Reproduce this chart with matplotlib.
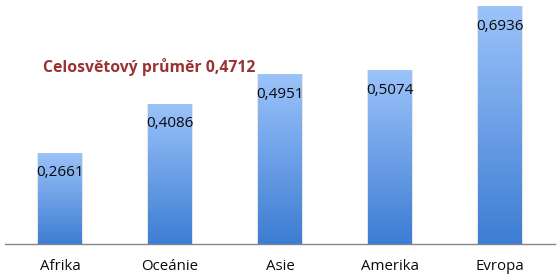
import numpy as np
import matplotlib
matplotlib.use("Agg")
import matplotlib.pyplot as plt
from matplotlib.colors import LinearSegmentedColormap

categories = ["Afrika", "Oceánie", "Asie", "Amerika", "Evropa"]
values = [0.2661, 0.4086, 0.4951, 0.5074, 0.6936]
value_labels = ["0,2661", "0,4086", "0,4951", "0,5074", "0,6936"]
title_text = "Celosvětový průměr 0,4712"

plt.rcParams['font.family'] = ['Open Sans', 'DejaVu Sans']

fig = plt.figure(figsize=(5.6, 2.8), dpi=100)
ax = fig.add_axes([5/560, 36/280, 550/560, 240/280])
ax.set_xlim(-0.5, 4.5)
ax.set_ylim(0, 0.7)

x = np.arange(len(categories))
bars = ax.bar(x, values, width=0.4, color='none', edgecolor='none', zorder=2)

cmap = LinearSegmentedColormap.from_list("g", ["#3d7dd3", "#9cc3fa"])
grad = np.linspace(0, 1, 256).reshape(-1, 1)
for b in bars:
    x0, y0 = b.get_x(), b.get_y()
    w, h = b.get_width(), b.get_height()
    ax.bar(x0 + w/2, h, width=w*1.06, bottom=0, color='#e6e6e6', zorder=1, edgecolor='none')
    im = ax.imshow(grad, cmap=cmap, origin='lower', aspect='auto',
                   extent=[x0, x0 + w, y0, y0 + h], zorder=3, interpolation='bilinear')
    im.set_clip_path(b)
    b.set_zorder(3)

ax.set_xlim(-0.5, 4.5)
ax.set_ylim(0, 0.7)

for xi, v, lab in zip(x, values, value_labels):
    ax.annotate(lab, (xi, v), xytext=(0, -14.4), textcoords='offset points',
                ha='center', va='center', fontsize=11, color='#0a0a0a', zorder=5)

ax.text(-0.155, 0.516, title_text, ha='left', va='center', fontsize=11.3,
        fontweight='bold', color='#993333')

for s in ['top', 'right', 'left']:
    ax.spines[s].set_visible(False)
ax.spines['bottom'].set_color('#868686')
ax.spines['bottom'].set_linewidth(1.0)
ax.set_yticks([])
ax.set_xticks(x)
ax.set_xticklabels(categories, fontsize=10.8, color='#0a0a0a')
ax.tick_params(axis='x', length=0, pad=11)

fig.savefig("out.png", dpi=100)
